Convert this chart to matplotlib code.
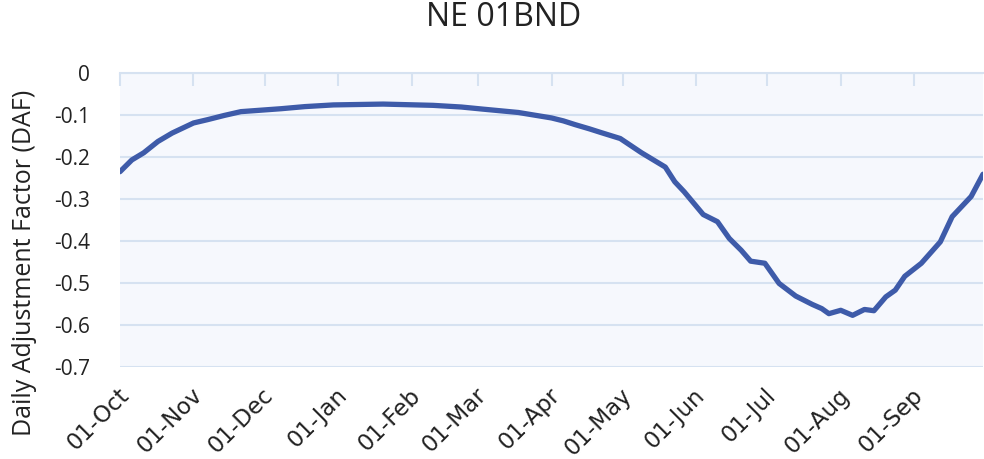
import numpy as np
import pandas as pd
import matplotlib
matplotlib.use("Agg")
import matplotlib.pyplot as plt
import matplotlib.dates as mdates
import matplotlib.transforms as mtransforms

# readings taken off the chart (season Oct -> Sep)
dates = ["2021-10-01", "2021-10-06", "2021-10-11", "2021-10-17", "2021-10-23",
         "2021-11-01", "2021-11-07", "2021-11-14", "2021-11-21", "2021-12-08",
         "2021-12-18", "2021-12-30", "2022-01-20", "2022-02-10", "2022-02-22",
         "2022-03-03", "2022-03-18", "2022-04-01", "2022-04-06", "2022-04-11",
         "2022-04-17", "2022-04-22", "2022-04-30", "2022-05-09", "2022-05-19",
         "2022-05-23", "2022-05-27", "2022-05-31", "2022-06-04", "2022-06-10",
         "2022-06-15", "2022-06-20", "2022-06-24", "2022-06-30", "2022-07-06",
         "2022-07-13", "2022-07-20", "2022-07-24", "2022-07-27", "2022-08-01",
         "2022-08-06", "2022-08-11", "2022-08-15", "2022-08-20", "2022-08-24",
         "2022-08-28", "2022-09-04", "2022-09-12", "2022-09-17", "2022-09-25",
         "2022-09-30"]
daf = [-0.235, -0.207, -0.190, -0.163, -0.143,
       -0.119, -0.111, -0.101, -0.092, -0.085,
       -0.080, -0.076, -0.074, -0.077, -0.081,
       -0.086, -0.094, -0.107, -0.114, -0.123,
       -0.133, -0.142, -0.156, -0.190, -0.224,
       -0.259, -0.283, -0.310, -0.337, -0.354,
       -0.394, -0.422, -0.448, -0.453, -0.501,
       -0.531, -0.551, -0.561, -0.573, -0.565,
       -0.577, -0.563, -0.566, -0.533, -0.517,
       -0.484, -0.453, -0.402, -0.342, -0.294,
       -0.241]
yticks = [0, -0.1, -0.2, -0.3, -0.4, -0.5, -0.6, -0.7]
ytick_labels = ["0", "-0.1", "-0.2", "-0.3", "-0.4", "-0.5", "-0.6", "-0.7"]

x = pd.to_datetime(dates)

fig = plt.figure(figsize=(9.84, 4.59), dpi=100, facecolor="white")
ax = fig.add_axes([120/984, 1-367/459, 863/984, 294/459])
ax.set_facecolor("#F6F8FD")

ax.plot(x, daf, color="#3E5BA9", lw=3.8, solid_capstyle="round",
        solid_joinstyle="round", zorder=3)

ax.set_ylim(-0.7, 0)
ax.set_xlim(pd.Timestamp("2021-10-01"), pd.Timestamp("2022-09-30"))
ax.set_yticks(yticks)
ax.set_yticklabels(ytick_labels, family="Open Sans", fontsize=15, color="#222222")
ax.yaxis.grid(True, color="#D6E2F1", lw=1.5)
ax.set_axisbelow(True)

ax.xaxis.set_major_locator(mdates.MonthLocator())
ax.xaxis.set_major_formatter(mdates.DateFormatter("%d-%b"))
ax.tick_params(axis="x", top=True, bottom=False, labeltop=False, labelbottom=True,
               direction="in", length=9, width=1.5, color="#D6E2F1", pad=12)
ax.tick_params(axis="y", left=False, pad=18)
shift = mtransforms.ScaledTranslation(-3/100, 0, fig.dpi_scale_trans)
for lab in ax.get_xticklabels():
    lab.set_rotation(45)
    lab.set_ha("right")
    lab.set_va("top")
    lab.set_rotation_mode("anchor")
    lab.set_fontsize(16.5)
    lab.set_family("DejaVu Sans")
    lab.set_color("#222222")
    lab.set_transform(lab.get_transform() + shift)

for s in ["left", "right", "bottom"]:
    ax.spines[s].set_visible(False)
ax.spines["top"].set_color("#D6E2F1")
ax.spines["top"].set_linewidth(1.5)

fig.text(504/984, 1-17/459, "NE 01BND", ha="center", va="center",
         family="Open Sans", fontsize=23, color="#222222")
fig.text(25/984, 1-263/459, "Daily Adjustment Factor (DAF)", rotation=90,
         ha="center", va="center", family="Open Sans", fontsize=18, color="#222222")

fig.savefig("out.png", dpi=100)
